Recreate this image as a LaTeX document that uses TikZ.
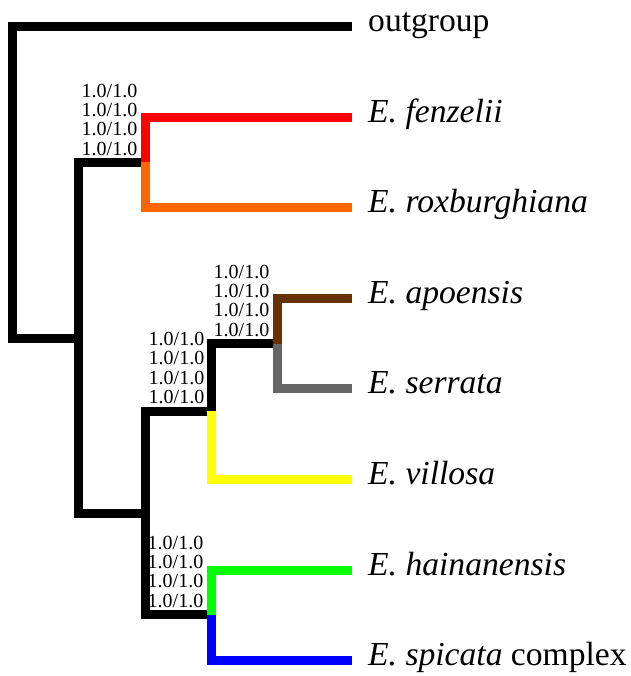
\documentclass[tikz,border=0pt]{standalone}
\usepackage{fontspec}
\setmainfont{Liberation Serif}
\usetikzlibrary{positioning}

\definecolor{fenz}{RGB}{255,0,0}
\definecolor{roxb}{RGB}{255,102,0}
\definecolor{apoe}{RGB}{102,51,0}
\definecolor{serr}{RGB}{102,102,102}
\definecolor{vill}{RGB}{255,255,0}
\definecolor{hain}{RGB}{0,255,0}
\definecolor{spic}{RGB}{0,0,255}

\begin{document}
\begin{tikzpicture}[x=1pt, y=1pt,
    branch/.style={line width=9pt, line join=miter, line cap=butt},
    leaf/.style={inner sep=0pt, text height=20pt, text depth=10pt, font=\fontsize{33.6}{36}\selectfont},
    support/.style={inner sep=0pt, align=right, font=\fontsize{20}{19.3}\selectfont}]
        \useasboundingbox (0,0) rectangle (630,-676);

        % Inner nodes
        \coordinate (root) at (12.5, -182);
        \coordinate (ing)  at (78.5, -338);
        \coordinate (fr)   at (145.5, -162.5);
        \coordinate (core) at (145, -513.5);
        \coordinate (asv)  at (211.5, -411);
        \coordinate (as)   at (277.5, -343.5);
        \coordinate (hs)   at (211.5, -614.5);

        % Tips
        \coordinate (out) at (352, -26.5);
        \coordinate (fen) at (352, -117.5);
        \coordinate (rox) at (352, -207.5);
        \coordinate (apo) at (352, -298);
        \coordinate (ser) at (352, -388.5);
        \coordinate (vil) at (352, -479);
        \coordinate (hai) at (352, -570);
        \coordinate (spi) at (352, -660.5);

        % Black branches
        \draw[branch] (root) |- (out);
        \draw[branch] (root) |- (ing);
        \draw[branch] (ing) |- (fr);
        \draw[branch] (ing) |- (core);
        \draw[branch] (core) |- (asv);
        \draw[branch] (core) |- (hs);
        \draw[branch] (asv) |- (as);

        % Coloured branches
        \draw[branch, fenz] (fr) |- (fen);
        \draw[branch, roxb] (fr) |- (rox);
        \draw[branch, apoe] (as) |- (apo);
        \draw[branch, serr] (as) |- (ser);
        \draw[branch, vill] (asv) |- (vil);
        \draw[branch, hain] (hs) |- (hai);
        \draw[branch, spic] (hs) |- (spi);

        % Taxon labels
        \node[leaf, right=16pt of out] (lout) {outgroup};
        \node[leaf, right=16pt of fen] (lfen) {\textit{E. fenzelii}};
        \node[leaf, right=16pt of rox] (lrox) {\textit{E. roxburghiana}};
        \node[leaf, right=16pt of apo] (lapo) {\textit{E. apoensis}};
        \node[leaf, right=16pt of ser] (lser) {\textit{E. serrata}};
        \node[leaf, right=16pt of vil] (lvil) {\textit{E. villosa}};
        \node[leaf, right=16pt of hai] (lhai) {\textit{E. hainanensis}};
        \node[leaf, right=16pt of spi] (lspi) {\textit{E. spicata} complex};

        % Support values
        \node[support, above left=7pt and 8pt of fr]  (sfr)  {1.0/1.0\\1.0/1.0\\1.0/1.0\\1.0/1.0};
        \node[support, above left=7pt and 8pt of as]  (sas)  {1.0/1.0\\1.0/1.0\\1.0/1.0\\1.0/1.0};
        \node[support, above left=7pt and 7pt of asv] (sasv) {1.0/1.0\\1.0/1.0\\1.0/1.0\\1.0/1.0};
        \node[support, above left=7pt and 8pt of hs]  (shs)  {1.0/1.0\\1.0/1.0\\1.0/1.0\\1.0/1.0};
\end{tikzpicture}
\end{document}
